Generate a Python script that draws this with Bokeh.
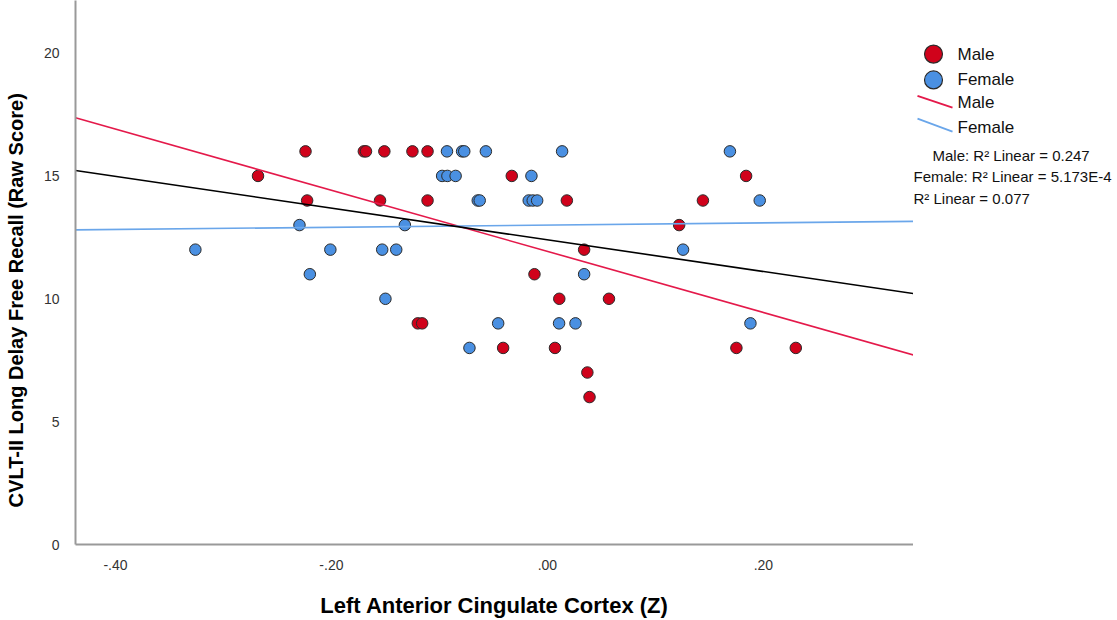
import math
from bokeh.plotting import figure
from bokeh.models import Range1d, FixedTicker
from bokeh.layouts import row
from bokeh.core.properties import value
from bokeh.embed import file_html
from bokeh.resources import INLINE

# ---------------- data ----------------
male_x = [-0.224, -0.170, -0.168, -0.151, -0.125, -0.111,
          -0.268, -0.033, 0.184,
          -0.2225, -0.155, -0.111, 0.018, 0.144,
          0.122,
          0.034,
          -0.012,
          0.011, 0.057,
          -0.120, -0.116,
          -0.041, 0.007, 0.175, 0.230,
          0.037,
          0.039]
male_y = [16, 16, 16, 16, 16, 16,
          15, 15, 15,
          14, 14, 14, 14, 14,
          13,
          12,
          11,
          10, 10,
          9, 9,
          8, 8, 8, 8,
          7,
          6]
female_x = [-0.093, -0.079, -0.077, -0.057, 0.0136, 0.169,
            -0.0975, -0.0926, -0.085, -0.0148,
            -0.0645, -0.0627, -0.0173, -0.0136, -0.0095, 0.1966,
            -0.2296, -0.132,
            -0.326, -0.201, -0.153, -0.140, 0.1256,
            -0.220, 0.034,
            -0.150,
            -0.0456, 0.0108, 0.026, 0.188,
            -0.0722]
female_y = [16, 16, 16, 16, 16, 16,
            15, 15, 15, 15,
            14, 14, 14, 14, 14, 14,
            13, 13,
            12, 12, 12, 12, 12,
            11, 11,
            10,
            9, 9, 9, 9,
            8]

fit_names = ["Male", "Female", "Total"]
fit_intercept = [11.93, 13.00, 12.40]
fit_slope = [-12.44, 0.45, -6.45]
r2_texts = ["Male: R\u00b2 Linear = 0.247",
            "Female: R\u00b2 Linear = 5.173E-4",
            "R\u00b2 Linear = 0.077"]

x_ticks = [-0.4, -0.2, 0.0, 0.2]
x_tick_labels = ["-.40", "-.20", ".00", ".20"]
y_ticks = [0, 5, 10, 15, 20]
x_min, x_max = -0.437, 0.339
y_min, y_max = 0, 22.14

x_title = "Left Anterior Cingulate Cortex (Z)"
y_title = "CVLT-II Long Delay Free Recall (Raw Score)"

# ---------------- styles ----------------
RED = "#D0021B"
BLUE = "#4A90E2"
RED_LINE = "#E4194A"
BLUE_LINE = "#6AA6EA"
EDGE = "#2B2B2B"
FONT = "Liberation Sans"

# ---------------- y-title strip (frame aligned with main frame: 548 px tall) ----------------
yt = figure(width=30, height=620, x_range=Range1d(0, 30), y_range=Range1d(0, 548),
            output_backend="svg", toolbar_location=None, min_border=0)
yt.axis.visible = False
yt.grid.visible = False
yt.outline_line_color = None
yt.text([15], [246], text=[y_title], angle=math.pi / 2, text_align="center",
        text_baseline="middle", text_font=value(FONT), text_font_style="bold",
        text_font_size="20px", text_color="#000000")

# ---------------- main plot ----------------
p = figure(width=883, height=620, x_range=Range1d(x_min, x_max),
           y_range=Range1d(y_min, y_max), output_backend="svg",
           toolbar_location=None, min_border_left=45, min_border_right=0,
           min_border_top=0, min_border_bottom=72)
p.outline_line_color = None
p.grid.visible = False
p.background_fill_color = "white"
p.border_fill_color = "white"

for ax in (p.xaxis[0], p.yaxis[0]):
    ax.axis_line_color = "#999999"
    ax.axis_line_width = 2
    ax.major_tick_line_color = None
    ax.minor_tick_line_color = None
    ax.major_label_text_font = FONT
    ax.major_label_text_font_size = "14px"
    ax.major_label_text_color = "#333333"

p.xaxis.ticker = FixedTicker(ticks=x_ticks)
p.xaxis.major_label_overrides = {t: l for t, l in zip(x_ticks, x_tick_labels)}
p.xaxis.major_label_standoff = 9
p.yaxis.ticker = FixedTicker(ticks=y_ticks)
p.yaxis.major_label_standoff = 10

p.xaxis.axis_label = x_title
p.xaxis.axis_label_text_font = FONT
p.xaxis.axis_label_text_font_style = "bold"
p.xaxis.axis_label_text_font_size = "22px"
p.xaxis.axis_label_text_color = "#000000"
p.xaxis.axis_label_standoff = 20

p.scatter(male_x, male_y, size=11.5, fill_color=RED, line_color=EDGE, line_width=1)
p.scatter(female_x, female_y, size=11.5, fill_color=BLUE, line_color=EDGE, line_width=1)

line_colors = [RED_LINE, BLUE_LINE, "#000000"]
for a, b, c in zip(fit_intercept, fit_slope, line_colors):
    xs = [x_min, x_max]
    ys = [a + b * xv for xv in xs]
    p.line(xs, ys, line_color=c, line_width=1.6)

# ---------------- legend panel (frame aligned with main frame: 548 px tall) ----------------
lg = figure(width=204, height=620, x_range=Range1d(0, 204), y_range=Range1d(548, 0),
            output_backend="svg", toolbar_location=None, min_border=0)
lg.axis.visible = False
lg.grid.visible = False
lg.outline_line_color = None

lg.scatter([20, 20], [54, 80], size=18, fill_color=[RED, BLUE], line_color=EDGE, line_width=1.2)
lg.segment([4, 4], [96, 119], [39, 39], [108, 132], line_color=[RED_LINE, BLUE_LINE], line_width=1.8)
lg.text([44, 44, 44, 44], [54, 80, 103, 128], text=["Male", "Female", "Male", "Female"],
        text_font=value(FONT), text_font_size="17px", text_baseline="middle",
        text_align="left", text_color="#111111")
lg.text([19, 0, 0], [156, 177, 199], text=r2_texts, text_font=value(FONT),
        text_font_size="15px", text_baseline="middle", text_align="left",
        text_color="#111111")

layout = row(yt, p, lg)
open("out.html", "w").write(file_html(layout, INLINE))
